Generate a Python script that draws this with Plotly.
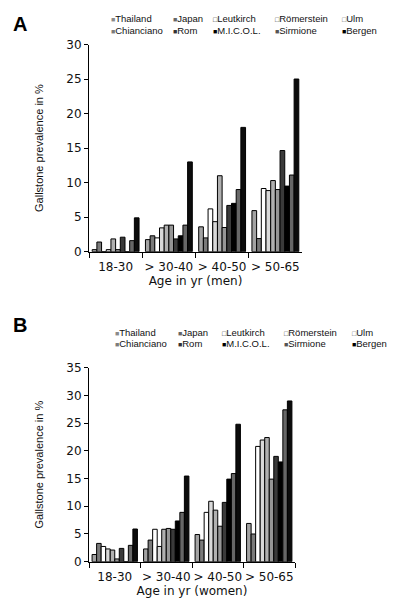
import plotly.graph_objects as go

categories = ["18-30", "> 30-40", "> 40-50", "> 50-65"]
series = ["Thailand", "Japan", "Leutkirch", "Römerstein", "Ulm",
          "Chianciano", "Rom", "M.I.C.O.L.", "Sirmione", "Bergen"]
colors = ["#a3a3a3", "#7a7a7a", "#ffffff", "#d9d9d9", "#b0b0b0",
          "#969696", "#3a3a3a", "#000000", "#676767", "#0c0c0c"]
# small legend swatches (glyph, colour)
swatch_glyph = ["■", "■", "□", "□", "□", "■", "■", "■", "■", "■"]
swatch_color = ["#8a8a8a", "#666666", "#222222", "#333333", "#555555",
                "#7c7c7c", "#333333", "#000000", "#555555", "#000000"]

men = {
    "Thailand":   [0.3, 1.75, 3.6, 5.95],
    "Japan":      [1.4, 2.3, 2.0, 1.9],
    "Leutkirch":  [0.0, 2.0, 6.2, 9.15],
    "Römerstein": [0.3, 3.45, 4.35, 8.85],
    "Ulm":        [1.85, 3.85, 11.0, 10.3],
    "Chianciano": [0.3, 3.85, 3.5, 9.0],
    "Rom":        [2.1, 1.85, 6.7, 14.65],
    "M.I.C.O.L.": [0.0, 2.3, 7.0, 9.5],
    "Sirmione":   [1.6, 3.85, 9.0, 11.1],
    "Bergen":     [4.9, 13.0, 18.0, 25.0],
}
women = {
    "Thailand":   [1.3, 2.3, 4.9, 6.9],
    "Japan":      [3.3, 3.9, 3.9, 5.0],
    "Leutkirch":  [2.75, 5.85, 8.9, 20.8],
    "Römerstein": [2.3, 2.75, 10.9, 21.95],
    "Ulm":        [2.1, 5.85, 9.3, 22.4],
    "Chianciano": [0.5, 6.0, 6.4, 14.9],
    "Rom":        [2.4, 5.85, 10.7, 19.0],
    "M.I.C.O.L.": [0.0, 7.35, 14.9, 18.0],
    "Sirmione":   [2.95, 8.9, 15.9, 27.4],
    "Bergen":     [5.9, 15.45, 24.8, 29.0],
}

# page body has an 8px margin: figure is drawn 8px in from the window corner
OFF = 8
W, H = 400 - OFF, 607 - OFF
L, R, T, B = 50, 0, 0, 0
PW, PH = W - L - R, H - T - B

def px(xw):   # window x pixel -> paper x
    return (xw - OFF - L) / PW

def py(yw):   # window y pixel -> paper y
    return 1 - (yw - OFF - T) / PH

# legend swatch left x (window px) per column, row centre y per row
legA_x = [111, 173, 213, 275, 342]
legA_y = [18, 30]
legB_x = [115, 178, 222, 284, 352]
legB_y = [332, 343]

fig = go.Figure()
layout_legends = {}
k = 0
for panel, data, lx, ly, xa, ya in [("A", men, legA_x, legA_y, "x", "y"),
                                    ("B", women, legB_x, legB_y, "x2", "y2")]:
    for i, name in enumerate(series):
        fig.add_trace(go.Bar(
            x=categories, y=data[name], name=name,
            marker=dict(color=colors[i], line=dict(color="#000000", width=1)),
            xaxis=xa, yaxis=ya, showlegend=False,
            legendgroup=panel + name,
        ))
    for i, name in enumerate(series):
        k += 1
        lname = "legend" if k == 1 else f"legend{k}"
        label = (f'<span style="color:{swatch_color[i]};font-size:7px">'
                 f'{swatch_glyph[i]}</span>{name}')
        fig.add_trace(go.Scatter(
            x=[None], y=[None], mode="markers", name=label,
            marker=dict(color="rgba(0,0,0,0)", size=1,
                        line=dict(width=0, color="rgba(0,0,0,0)")),
            xaxis=xa, yaxis=ya, legend=lname, showlegend=True,
            legendgroup=panel + name, hoverinfo="skip",
        ))
        col = i % 5
        row = i // 5
        layout_legends[lname] = dict(
            x=px(lx[col] - 40), y=py(ly[row]),
            xanchor="left", yanchor="middle",
            bgcolor="rgba(0,0,0,0)", borderwidth=0,
            font=dict(family="Liberation Sans, Arial", size=9.5, color="#111"),
            orientation="v",
        )

tickfont = dict(family="DejaVu Sans, Verdana", size=12, color="#111")
titlefont = dict(family="DejaVu Sans, Verdana", size=12, color="#111")
ytitlefont = dict(family="Liberation Sans, Arial", size=11, color="#111")

def xaxis_style(x0, x1, anchor, title):
    return dict(domain=[px(x0), px(x1)], anchor=anchor, type="category",
                showline=True, linecolor="#000", linewidth=1,
                ticks="outside", tickson="boundaries", ticklen=5,
                tickcolor="#000", showgrid=False, zeroline=False,
                tickfont=tickfont, tickangle=0, automargin=True,
                ticklabelstandoff=4,
                title=dict(text=title, font=titlefont, standoff=2))

def yaxis_style(y0, y1, anchor, rng):
    return dict(domain=[py(y0), py(y1)], anchor=anchor, range=rng, dtick=5,
                showline=True, linecolor="#000", linewidth=1,
                ticks="outside", ticklen=4, tickcolor="#000",
                showgrid=False, zeroline=False, tickfont=tickfont,
                automargin=True,
                title=dict(text="Gallstone prevalence in %", font=ytitlefont,
                           standoff=20))

fig.update_layout(
    width=W, height=H,
    margin=dict(l=L, r=R, t=T, b=B, autoexpand=False),
    paper_bgcolor="#ffffff", plot_bgcolor="#ffffff",
    barmode="group", bargap=0.12, bargroupgap=0,
    xaxis=xaxis_style(89, 302, "y", "Age in yr (men)"),
    yaxis=yaxis_style(251.7, 44.5, "x", [0, 30]),
    xaxis2=xaxis_style(89, 295, "y2", "Age in yr (women)"),
    yaxis2=yaxis_style(561.7, 367.7, "x2", [0, 35]),
    annotations=[
        dict(text="<b>A</b>", x=px(20), y=py(24), xref="paper", yref="paper",
             xanchor="center", yanchor="middle", showarrow=False,
             font=dict(family="Liberation Sans, Arial", size=20, color="#000")),
        dict(text="<b>B</b>", x=px(20), y=py(325), xref="paper", yref="paper",
             xanchor="center", yanchor="middle", showarrow=False,
             font=dict(family="Liberation Sans, Arial", size=20, color="#000")),
    ],
    **layout_legends,
)

fig.write_html("out.html")
